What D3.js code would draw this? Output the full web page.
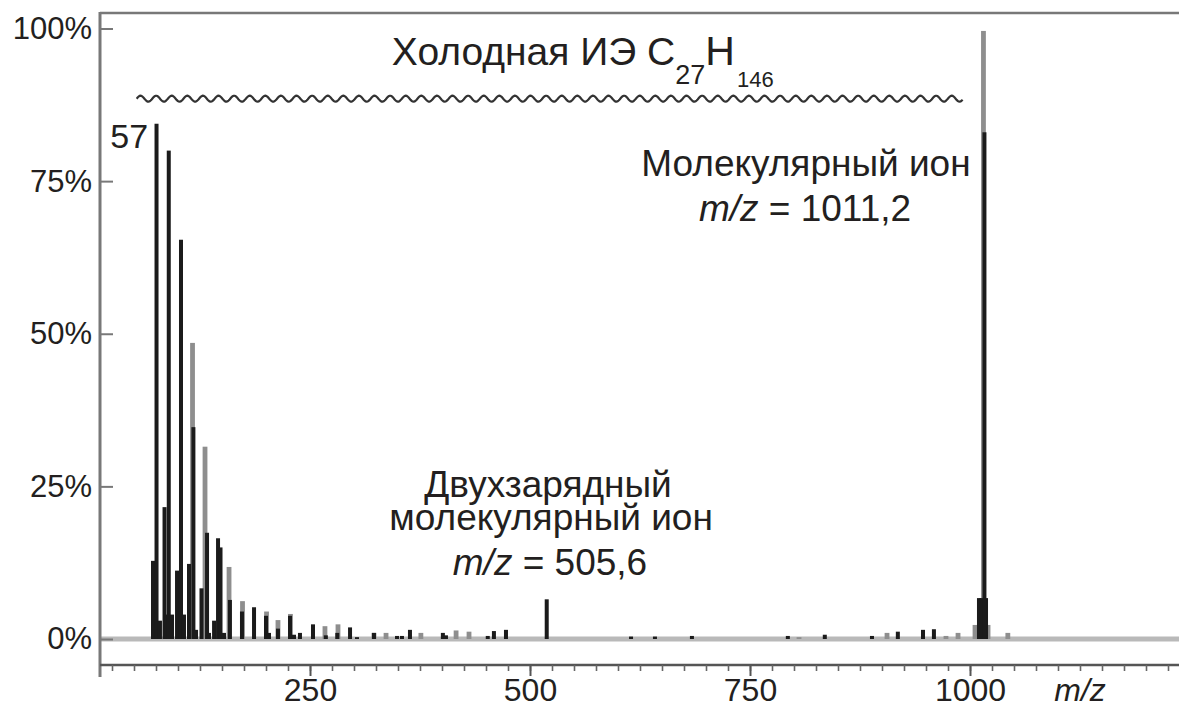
<!DOCTYPE html>
<html>
<head>
<meta charset="utf-8">
<script src="https://cdn.jsdelivr.net/npm/d3@7"></script>
<style>
  body { margin: 0; background: #fff; }
  svg { display: block; }
  text { font-family: "Liberation Sans", Arial, Helvetica, sans-serif; fill: #231f20; }
</style>
</head>
<body>
<svg id="chart" width="1179" height="711"></svg>
<script>
// peaks, m/z as it sits against the printed axis, intensity in %
const blackPeaks = [
  [71.6, 12.8], [75.6, 84.4], [79.5, 3], [84.7, 21.6], [86.4, 4], [89.5, 80], [93.2, 4],
  [98.9, 11.2], [103.4, 65.4], [106.8, 4], [112.5, 12.3], [117.5, 34.7], [120.5, 1.5],
  [126.7, 8.3], [133, 17.4], [135.2, 1], [141, 3], [145.5, 16.5], [148.3, 15], [152.3, 1],
  [159, 6.4], [172.7, 4.5], [186.4, 5.2], [200, 3.8], [203.4, 1], [213.6, 1.7],
  [227.3, 3.8], [231.8, 0.7], [238.6, 1], [253.4, 2.4], [268, 0.6], [281, 1],
  [295.5, 1.9], [303.4, 0.3], [322.7, 1], [348.9, 0.5], [354.5, 0.5], [363.6, 1.5],
  [401, 1], [404.5, 0.6], [452, 0.5], [459, 1.3], [472.7, 1.5], [519, 6.5],
  [614.8, 0.4], [642, 0.4], [684, 0.5], [793, 0.5], [835, 0.7], [888.6, 0.5],
  [918, 1.2], [946.6, 1.5], [959, 1.6], [1010.2, 6.7], [1013, 6.7], [1018.2, 6.7], [1016.4, 83]
];
const grayPeaks = [
  [116.5, 48.5], [130.7, 31.5], [158, 11.8], [173.3, 6.2], [200.6, 4.5], [213.6, 3.1],
  [227.8, 4.1], [267, 2.1], [281.8, 2.4], [322.7, 1], [336.4, 1], [376, 1], [416, 1.4],
  [430.7, 1.2], [805.7, 0.3], [905.7, 1], [972.7, 0.5], [986.4, 1], [1005.7, 2.3],
  [1010.2, 2.3], [1020.5, 2.3], [1015.3, 99.6], [1043, 1]
];
const xMajorTicks = [250, 500, 750, 1000];
const xMinorTicks = d3.range(25, 1250, 25);
const yTicks = [0, 25, 50, 75, 100];
const yTickLabels = ['0%', '25%', '50%', '75%', '100%'];

const W = 1179;
const svg = d3.select('#chart');

const x = d3.scaleLinear().domain([0, 1000]).range([90, 970]);
const y = d3.scaleLinear().domain([0, 100]).range([639, 28.5]);

const frameLeft = 100, frameTop = 13, axisY = 665;
const axisGray = '#787878';

// grey zero line
svg.append('line')
  .attr('x1', frameLeft).attr('x2', W)
  .attr('y1', y(0)).attr('y2', y(0))
  .attr('stroke', '#b9b9b9').attr('stroke-width', 5);

// peaks
svg.append('g').selectAll('rect')
  .data(grayPeaks)
  .join('rect')
  .attr('x', d => x(d[0]) - 2.4)
  .attr('width', 4.8)
  .attr('y', d => y(d[1]))
  .attr('height', d => y(0) - y(d[1]))
  .attr('fill', '#8e8e8e');

svg.append('g').selectAll('rect')
  .data(blackPeaks)
  .join('rect')
  .attr('x', d => x(d[0]) - 2)
  .attr('width', 4)
  .attr('y', d => y(d[1]))
  .attr('height', d => y(0) - y(d[1]))
  .attr('fill', '#1b1b1b');

// frame: top and left
svg.append('line')
  .attr('x1', frameLeft).attr('x2', W)
  .attr('y1', frameTop).attr('y2', frameTop)
  .attr('stroke', axisGray).attr('stroke-width', 2.5);

svg.append('line')
  .attr('x1', frameLeft).attr('x2', frameLeft)
  .attr('y1', frameTop - 1).attr('y2', 677)
  .attr('stroke', axisGray).attr('stroke-width', 3);

// y axis, ticks pointing inward
const yAxis = svg.append('g')
  .attr('transform', `translate(${frameLeft},0)`)
  .call(d3.axisLeft(y).tickValues(yTicks)
    .tickFormat((d, i) => yTickLabels[i])
    .tickSize(-13).tickPadding(8));
yAxis.select('.domain').remove();
yAxis.selectAll('line').attr('stroke', axisGray).attr('stroke-width', 2);
yAxis.selectAll('text')
  .attr('font-size', 31)
  .attr('fill', '#231f20');

// x axis line
svg.append('line')
  .attr('x1', frameLeft).attr('x2', W)
  .attr('y1', axisY).attr('y2', axisY)
  .attr('stroke', '#555').attr('stroke-width', 2.5);

const xMinor = svg.append('g')
  .attr('transform', `translate(0,${axisY})`)
  .call(d3.axisBottom(x).tickValues(xMinorTicks.filter(v => x(v) > frameLeft + 1 && x(v) < W))
    .tickSize(6).tickFormat(''));
xMinor.select('.domain').remove();
xMinor.selectAll('line').attr('stroke', '#666').attr('stroke-width', 1.6);

const xMajor = svg.append('g')
  .attr('transform', `translate(0,${axisY})`)
  .call(d3.axisBottom(x).tickValues(xMajorTicks).tickFormat(d3.format('d'))
    .tickSize(11).tickPadding(2));
xMajor.select('.domain').remove();
xMajor.selectAll('line').attr('stroke', '#555').attr('stroke-width', 2);
xMajor.selectAll('text')
  .attr('font-size', 32)
  .attr('dy', '0.71em')
  .attr('fill', '#231f20');

// axis title
svg.append('text')
  .attr('x', x(1125)).attr('y', 701)
  .attr('text-anchor', 'middle')
  .attr('font-size', 32)
  .attr('font-style', 'italic')
  .text('m/z');

// wavy bracket over the fragment range
const waveStart = x(53), waveEnd = x(992), waveY = y(88.5);
const wavePts = d3.range(waveStart, waveEnd, 1).map(px => [px, waveY + 3 * Math.sin((px - waveStart) / 15.6 * 2 * Math.PI + Math.PI)]);
svg.append('path')
  .attr('d', d3.line()(wavePts))
  .attr('fill', 'none')
  .attr('stroke', '#333')
  .attr('stroke-width', 2.2);

// title
const title = svg.append('text')
  .attr('x', x(343)).attr('y', y(94.1))
  .attr('font-size', 39);
title.append('tspan').text('Холодная ИЭ C');
title.append('tspan').attr('font-size', 27).attr('dy', 19).text('27');
title.append('tspan').attr('dy', -19).attr('font-size', 41).text('H');
title.append('tspan').attr('font-size', 22).attr('dx', 2).attr('dy', 22).text('146');

// annotations
const notes = [
  { m: 66, p: 80.5, anchor: 'end', parts: [['57', false]] },
  { m: 813.6, p: 75.9, anchor: 'middle', parts: [['Молекулярный ион', false]] },
  { m: 812.5, p: 68.4, anchor: 'middle', parts: [['m/z', true], [' = 1011,2', false]] },
  { m: 520.5, p: 23.3, anchor: 'middle', parts: [['Двухзарядный', false]] },
  { m: 524, p: 17.9, anchor: 'middle', parts: [['молекулярный ион', false]] },
  { m: 522.7, p: 10.5, anchor: 'middle', parts: [['m/z', true], [' = 505,6', false]] }
];

notes.forEach(n => {
  const t = svg.append('text')
    .attr('x', x(n.m)).attr('y', y(n.p))
    .attr('text-anchor', n.anchor)
    .attr('font-size', n.parts[0][0] === '57' ? 34 : 37);
  n.parts.forEach(([s, it]) => {
    t.append('tspan')
      .attr('font-style', it ? 'italic' : 'normal')
      .text(s);
  });
});
</script>
</body>
</html>
